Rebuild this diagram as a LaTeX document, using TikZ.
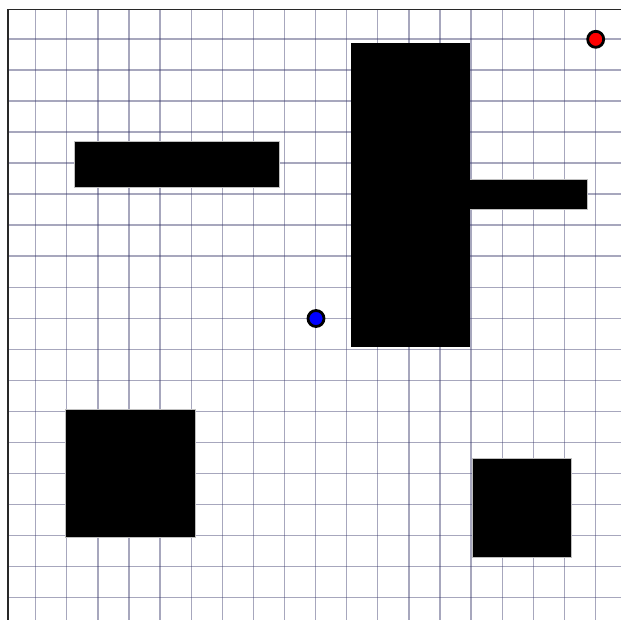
\documentclass[tikz,border=0pt]{standalone}
\begin{document}
\begin{tikzpicture}[x=1pt,y=-1pt,
  gridline/.style={line width=1.3pt,draw={rgb,255:red,60;green,60;blue,110},opacity=0.45},
  frame/.style={line width=1.4pt,draw={rgb,255:red,40;green,40;blue,40}},
  obstacle/.style={fill=black,draw=black!25,line width=0.6pt},
  dot/.style={circle,draw=black,line width=2.8pt,minimum size=16pt,inner sep=0pt}]
\useasboundingbox (0,0) rectangle (621,620);
\fill[white] (0,0) rectangle (621,620);
% grid
\foreach \i in {0,...,18} {
  \draw[gridline] ({35.7+31.1*\i},9.3) -- ({35.7+31.1*\i},620);
}
\foreach \j in {0,...,18} {
  \draw[gridline] (8,{39+31.02*\j}) -- (621,{39+31.02*\j});
}
% frame
\draw[frame] (8,620) -- (8,9.3) -- (621,9.3);
% obstacles
\draw[obstacle] (74,141) rectangle (279,187);
\draw[obstacle] (351,43) rectangle (469,346.5);
\draw[obstacle] (469,179.3) rectangle (587,209.3);
\draw[obstacle] (65,409.3) rectangle (195,537.7);
\draw[obstacle] (472,458.3) rectangle (571,557.3);
\fill (351,43) rectangle (469.5,346.5);
% start and goal
\node[dot,fill=blue] (start) at (316,318.5) {};
\node[dot,fill=red] (goal) at (595.7,39.3) {};
\end{tikzpicture}
\end{document}
